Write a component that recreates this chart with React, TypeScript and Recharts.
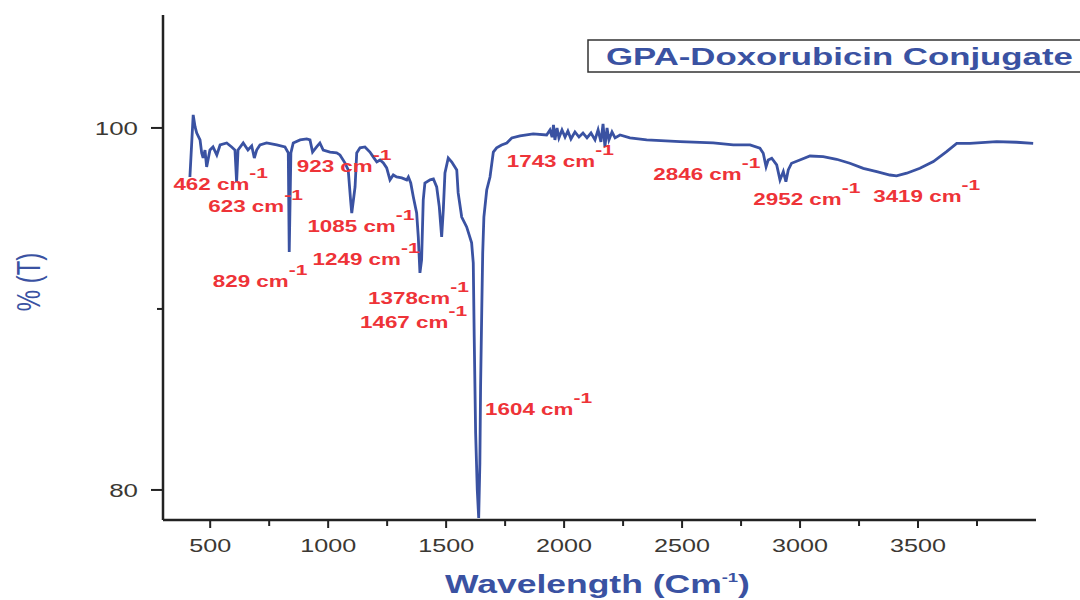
import { LineChart, Line, XAxis, YAxis, ReferenceDot } from 'recharts';

// FTIR spectrum (wavenumber in cm-1, transmittance in %)
const wavenumbers = [
  414, 423, 428, 436, 443, 457, 464, 470, 478, 485,
  499, 512, 528, 542, 570, 591, 605, 612, 618, 640,
  660, 676, 687, 697, 711, 739, 782, 817, 831, 835,
  842, 852, 881, 909, 923, 934, 951, 965, 979, 1008,
  1036, 1050, 1071, 1085, 1095, 1100, 1107, 1114, 1121, 1135,
  1156, 1177, 1191, 1206, 1220, 1234, 1248, 1262, 1276, 1290,
  1312, 1333, 1340, 1350, 1361, 1375, 1382, 1389, 1396, 1403,
  1410, 1432, 1446, 1460, 1471, 1481, 1488, 1495, 1509, 1524,
  1545, 1551, 1566, 1587, 1608, 1615, 1619, 1625, 1632, 1638,
  1643, 1646, 1651, 1655, 1660, 1672, 1686, 1700, 1714, 1735,
  1757, 1778, 1813, 1869, 1926, 1940, 1949, 1955, 1961, 1970,
  1978, 1991, 2004, 2016, 2029, 2046, 2063, 2080, 2097, 2114,
  2131, 2144, 2156, 2165, 2173, 2182, 2190, 2203, 2216, 2237,
  2279, 2350, 2491, 2632, 2717, 2788, 2830, 2844, 2856, 2865,
  2880, 2901, 2915, 2929, 2940, 2950, 2964, 2999, 3042, 3098,
  3155, 3211, 3268, 3325, 3381, 3409, 3452, 3508, 3565, 3621,
  3664, 3720, 3833, 3918, 3988,
];

const transmittance = [
  97.29, 99.5, 100.72, 100.06, 99.72, 99.34, 98.62, 98.34, 98.78, 97.85,
  98.78, 98.95, 98.51, 99.06, 99.17, 98.95, 98.78, 97.02, 98.78, 99.17,
  98.78, 99.01, 98.34, 98.78, 99.06, 99.17, 99.06, 98.95, 98.62, 93.15,
  98.62, 99.17, 99.34, 99.39, 99.34, 98.67, 98.95, 99.17, 98.78, 98.67,
  98.62, 98.51, 98.07, 97.68, 96.02, 95.3, 96.02, 96.74, 98.62, 98.9,
  98.95, 98.67, 98.4, 98.12, 98.23, 98.07, 97.79, 97.13, 97.4, 97.29,
  97.24, 97.13, 97.29, 96.96, 96.19, 95.3, 93.98, 91.99, 92.71, 96.02,
  96.96, 97.13, 97.18, 96.74, 95.64, 93.98, 95.47, 97.51, 98.34, 98.12,
  97.68, 96.41, 95.08, 94.53, 93.65, 92.54, 88.45, 83.15, 80.0, 78.45,
  81.49, 85.69, 89.94, 93.09, 95.08, 96.57, 97.29, 98.67, 98.9, 99.06,
  99.17, 99.45, 99.56, 99.67, 99.61, 99.89, 99.5, 100.17, 99.34, 100.0,
  99.45, 99.89, 99.5, 99.83, 99.39, 99.78, 99.5, 99.72, 99.45, 99.72,
  99.34, 99.89, 99.23, 100.22, 98.95, 100.0, 99.34, 99.78, 99.45, 99.61,
  99.45, 99.34, 99.24, 99.17, 99.06, 99.06, 98.88, 98.6, 97.86, 98.23,
  98.33, 97.96, 97.13, 97.59, 97.03, 97.68, 98.05, 98.23, 98.45, 98.41,
  98.27, 98.05, 97.77, 97.59, 97.4, 97.35, 97.5, 97.77, 98.14, 98.69,
  99.15, 99.15, 99.24, 99.21, 99.15,
];

// peak annotations: text + where its left baseline sits (data units)
const peakLabels = [
  '462 cm', '623 cm', '923 cm', '1085 cm', '1249 cm', '829 cm', '1378cm',
  '1467 cm', '1604 cm', '1743 cm', '2846 cm', '2952 cm', '3419 cm',
];
const peakLabelWn = [344, 492, 867, 912, 934, 511, 1169, 1135, 1665, 1757, 2378, 2802, 3310];
const peakLabelT = [96.57, 95.38, 97.59, 94.27, 92.43, 91.2, 90.28, 88.95, 84.14, 97.86, 97.13, 95.75, 95.93];

const majorX = [500, 1000, 1500, 2000, 2500, 3000, 3500];
const minorX = [750, 1250, 1750, 2250, 2750, 3250, 3750];
const yTicks = [80, 90, 100];
const yLabelled = [80, 100];

const FONT = '"Liberation Sans", Arial, Helvetica, sans-serif';
const BLUE = '#3a52a2';
const RED = '#ee3338';
const AXIS = '#222';
const TICK_TEXT = '#3b3833';
const SX = 1.4; // the source figure is stretched horizontally

const data = wavenumbers.map((wn, i) => ({ wn, t: transmittance[i] }));

function XTick(props: any) {
  const { x, y, payload } = props;
  const major = majorX.includes(payload.value);
  return (
    <g>
      <line x1={x} x2={x} y1={y} y2={y + (major ? 8 : 6)} stroke={AXIS} strokeWidth={2} />
      {major && (
        <text
          transform={`translate(${x},${y + 32}) scale(${SX},1)`}
          textAnchor="middle"
          fontSize={18}
          fill={TICK_TEXT}
          fontFamily={FONT}
        >
          {payload.value}
        </text>
      )}
    </g>
  );
}

function YTick(props: any) {
  const { x, y, payload } = props;
  const major = yLabelled.includes(payload.value);
  return (
    <g>
      <line x1={x - (major ? 12 : 6)} x2={x} y1={y} y2={y} stroke={AXIS} strokeWidth={2} />
      {major && (
        <text
          transform={`translate(${x - 25},${y + 7}) scale(${SX},1)`}
          textAnchor="end"
          fontSize={18.5}
          fill={TICK_TEXT}
          fontFamily={FONT}
        >
          {payload.value}
        </text>
      )}
    </g>
  );
}

function PeakText({ cx, cy, text }: { cx: number; cy: number; text: string }) {
  return (
    <text
      transform={`translate(${cx},${cy}) scale(${SX},1)`}
      fill={RED}
      fontWeight="bold"
      fontSize={16}
      fontFamily={FONT}
    >
      {text}
      <tspan dy={-12} fontSize={15}>-1</tspan>
    </text>
  );
}

export default function App() {
  return (
    <div
      style={{
        position: 'absolute',
        left: 0,
        top: 0,
        width: 1080,
        height: 600,
        overflow: 'hidden',
        background: '#fff',
      }}
    >
      <LineChart width={1080} height={600} data={data} margin={{ top: 15, right: 44, bottom: 0, left: 0 }}>
        <XAxis
          dataKey="wn"
          type="number"
          domain={[300, 4000]}
          ticks={[...majorX, ...minorX].sort((a, b) => a - b)}
          allowDataOverflow
          height={80}
          axisLine={{ stroke: AXIS, strokeWidth: 2.5 }}
          tickLine={false}
          tickSize={0}
          tickMargin={0}
          tick={<XTick />}
          interval={0}
        />
        <YAxis
          type="number"
          domain={[78.34, 106.24]}
          ticks={yTicks}
          allowDataOverflow
          width={163}
          axisLine={{ stroke: AXIS, strokeWidth: 2.5 }}
          tickLine={false}
          tickSize={0}
          tickMargin={0}
          tick={<YTick />}
          interval={0}
        />
        <Line
          type="linear"
          dataKey="t"
          stroke={BLUE}
          strokeWidth={2.8}
          dot={false}
          isAnimationActive={false}
        />
        {peakLabels.map((label, i) => (
          <ReferenceDot
            key={label}
            x={peakLabelWn[i]}
            y={peakLabelT[i]}
            r={0}
            ifOverflow="visible"
            shape={(p: any) => <PeakText cx={p.cx} cy={p.cy} text={label} />}
          />
        ))}
      </LineChart>

      <svg
        width={1080}
        height={600}
        style={{ position: 'absolute', left: 0, top: 0, pointerEvents: 'none' }}
      >
        <rect x={588} y={40} width={600} height={32} fill="#fff" stroke="#333" strokeWidth={1.5} />
        <text
          transform="translate(606,65) scale(1.48,1)"
          fontSize={23.5}
          fontWeight="bold"
          fill={BLUE}
          fontFamily={FONT}
        >
          GPA-Doxorubicin Conjugate
        </text>
        <text
          transform={`translate(597.5,593) scale(1.42,1)`}
          textAnchor="middle"
          fontSize={25}
          fontWeight="bold"
          fill={BLUE}
          fontFamily={FONT}
        >
          Wavelength (Cm
          <tspan dy={-11} fontSize={13}>-1</tspan>
          <tspan dy={11} fontSize={25}>)</tspan>
        </text>
        <text
          transform={`translate(40,282) scale(${SX},1) rotate(-90)`}
          textAnchor="middle"
          fontSize={24}
          fill={BLUE}
          fontFamily={FONT}
        >
          % (T)
        </text>
      </svg>
    </div>
  );
}
